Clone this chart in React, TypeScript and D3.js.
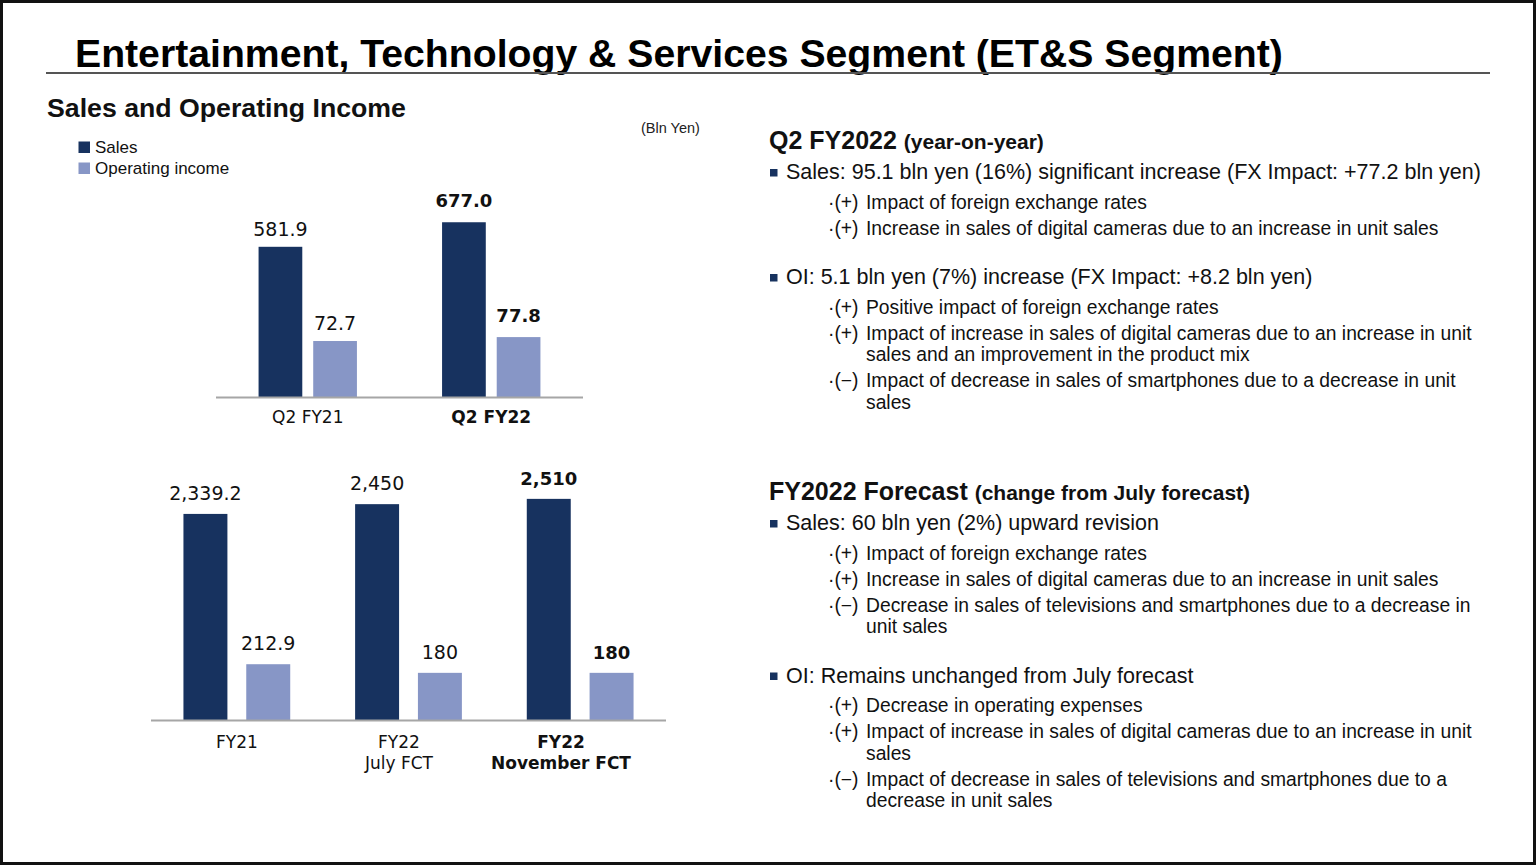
import React from "react";
import * as d3 from "d3";

const W = 1536;
const H = 865;

// ---------- data ----------
const seriesNames = ["Sales", "Operating income"];
const seriesColors = ["#17325f", "#8796c6"];

const q2Categories = [["Q2 FY21"], ["Q2 FY22"]];
const q2Sales = [581.9, 677.0];
const q2OperatingIncome = [72.7, 77.8];

const fyCategories = [["FY21"], ["FY22", "July FCT"], ["FY22", "November FCT"]];
const fySales = [2339.2, 2450, 2510];
const fyOperatingIncome = [212.9, 180, 180];

const titleText = "Entertainment, Technology & Services Segment (ET&S Segment)";
const subTitleText = "Sales and Operating Income";
const unitText = "(Bln Yen)";

type Sub = { sign: string; lines: string[] };
type Bullet = { text: string; subs: Sub[] };
type Section = { head: string; headNote: string; bullets: Bullet[] };

const sections: Section[] = [
  {
    head: "Q2 FY2022",
    headNote: "(year-on-year)",
    bullets: [
      {
        text: "Sales: 95.1 bln yen (16%) significant increase (FX Impact: +77.2 bln yen)",
        subs: [
          { sign: "·(+)", lines: ["Impact of foreign exchange rates"] },
          { sign: "·(+)", lines: ["Increase in sales of digital cameras due to an increase in unit sales"] },
        ],
      },
      {
        text: "OI: 5.1 bln yen (7%) increase (FX Impact: +8.2 bln yen)",
        subs: [
          { sign: "·(+)", lines: ["Positive impact of foreign exchange rates"] },
          {
            sign: "·(+)",
            lines: [
              "Impact of increase in sales of digital cameras due to an increase in unit",
              "sales and an improvement in the product mix",
            ],
          },
          {
            sign: "·(−)",
            lines: ["Impact of decrease in sales of smartphones due to a decrease in unit", "sales"],
          },
        ],
      },
    ],
  },
  {
    head: "FY2022 Forecast",
    headNote: "(change from July forecast)",
    bullets: [
      {
        text: "Sales: 60 bln yen (2%) upward revision",
        subs: [
          { sign: "·(+)", lines: ["Impact of foreign exchange rates"] },
          { sign: "·(+)", lines: ["Increase in sales of digital cameras due to an increase in unit sales"] },
          {
            sign: "·(−)",
            lines: ["Decrease in sales of televisions and smartphones due to a decrease in", "unit sales"],
          },
        ],
      },
      {
        text: "OI: Remains unchanged from July forecast",
        subs: [
          { sign: "·(+)", lines: ["Decrease in operating expenses"] },
          {
            sign: "·(+)",
            lines: ["Impact of increase in sales of digital cameras due to an increase in unit", "sales"],
          },
          {
            sign: "·(−)",
            lines: [
              "Impact of decrease in sales of televisions and smartphones due to a",
              "decrease in unit sales",
            ],
          },
        ],
      },
    ],
  },
];

// ---------- fonts ----------
const UI_FONT = "'Liberation Sans', Arial, sans-serif";
const NUM_FONT = "'DejaVu Sans', Verdana, sans-serif";

type ChartProps = {
  categories: string[][];
  sales: number[];
  oi: number[];
  xRange: [number, number];
  padInner: number;
  barPad: number;
  baseline: number;
  salesScale: [number, number];
  oiScale: [number, number];
  fmt: (v: number) => string;
  labelGap: (bold: boolean) => number;
  catLabelRange?: [number, number];
  catY: number;
};

function BarChart(p: ChartProps) {
  const idx = p.categories.map((_, i) => String(i));
  const x0 = d3
    .scaleBand<string>()
    .domain(idx)
    .range(p.xRange)
    .paddingInner(p.padInner)
    .paddingOuter(p.padInner / 2);
  const x1 = d3
    .scaleBand<string>()
    .domain(["s", "o"])
    .range([0, x0.bandwidth()])
    .paddingInner(p.barPad);
  const yS = d3.scaleLinear().domain([0, p.salesScale[0]]).range([p.baseline, p.salesScale[1]]);
  const yO = d3.scaleLinear().domain([0, p.oiScale[0]]).range([p.baseline, p.oiScale[1]]);
  const labelX = p.catLabelRange
    ? d3.scalePoint<string>().domain(idx).range(p.catLabelRange)
    : (k: string) => (x0(k) as number) + x0.bandwidth() / 2;
  const last = p.categories.length - 1;

  return (
    <g>
      {idx.map((k, i) => {
        const bold = i === last;
        const gx = x0(k) as number;
        const bars = [
          { key: "s", v: p.sales[i], y: yS, c: seriesColors[0] },
          { key: "o", v: p.oi[i], y: yO, c: seriesColors[1] },
        ];
        return (
          <g key={k}>
            {bars.map((b) => {
              const bx = gx + (x1(b.key) as number);
              const top = b.y(b.v);
              return (
                <g key={b.key}>
                  <rect x={bx} y={top} width={x1.bandwidth()} height={p.baseline - top} fill={b.c} />
                  <text
                    x={bx + x1.bandwidth() / 2}
                    y={top - p.labelGap(bold)}
                    textAnchor="middle"
                    fontFamily={NUM_FONT}
                    fontSize={bold ? 18 : 19}
                    fontWeight={bold ? "bold" : "normal"}
                    fill="#111"
                  >
                    {p.fmt(b.v)}
                  </text>
                </g>
              );
            })}
            {p.categories[i].map((line, li) => (
              <text
                key={li}
                x={(labelX as any)(k)}
                y={p.catY + li * 21}
                textAnchor="middle"
                fontFamily={NUM_FONT}
                fontSize={17}
                fontWeight={bold ? "bold" : "normal"}
                fill="#111"
              >
                {line}
              </text>
            ))}
          </g>
        );
      })}
      <line
        x1={p.xRange[0]}
        x2={p.xRange[1]}
        y1={p.baseline + 0.5}
        y2={p.baseline + 0.5}
        stroke="#a6a6a6"
        strokeWidth={2}
      />
    </g>
  );
}

function RightText() {
  const els: React.ReactNode[] = [];
  const startY = [149, 500];
  sections.forEach((sec, si) => {
    let y = startY[si];
    els.push(
      <text key={`h${si}`} x={769} y={y} fontFamily={UI_FONT} fontWeight="bold" fill="#111">
        <tspan fontSize={25}>{sec.head} </tspan>
        <tspan fontSize={21}>{sec.headNote}</tspan>
      </text>
    );
    sec.bullets.forEach((b, bi) => {
      y += bi === 0 ? 30 : 49.5;
      els.push(
        <g key={`b${si}-${bi}`}>
          <rect x={770} y={y - 10} width={7.5} height={7.5} fill={seriesColors[0]} />
          <text x={786} y={y} fontFamily={UI_FONT} fontSize={21.5} fill="#111">
            {b.text}
          </text>
        </g>
      );
      b.subs.forEach((s, ssi) => {
        y += ssi === 0 ? 29.5 : 26;
        els.push(
          <text key={`s${si}-${bi}-${ssi}`} x={828} y={y} fontFamily={UI_FONT} fontSize={19.3} fill="#111">
            {s.sign}
          </text>
        );
        s.lines.forEach((ln, li) => {
          if (li > 0) y += 21.5;
          els.push(
            <text
              key={`l${si}-${bi}-${ssi}-${li}`}
              x={866}
              y={y}
              fontFamily={UI_FONT}
              fontSize={19.3}
              fill="#111"
            >
              {ln}
            </text>
          );
        });
      });
    });
  });
  return <g>{els}</g>;
}

export default function App() {
  const topFmt = d3.format(".1f");
  const fyFmt = (v: number) => (Number.isInteger(v) ? d3.format(",")(v) : d3.format(",.1f")(v));
  return (
    <svg
      width={W}
      height={H}
      viewBox={`0 0 ${W} ${H}`}
      style={{ position: "absolute", left: 0, top: 0, display: "block", background: "#fff" }}
    >
      <rect x={0} y={0} width={W} height={H} fill="#fff" />
      <rect x={1.5} y={1.5} width={W - 3} height={H - 3} fill="none" stroke="#111" strokeWidth={3} />

      <text x={75} y={67} fontFamily={UI_FONT} fontWeight="bold" fontSize={39.2} fill="#000">
        {titleText}
      </text>
      <line x1={46} x2={1490} y1={73} y2={73} stroke="#555" strokeWidth={2} />

      <text x={47} y={117} fontFamily={UI_FONT} fontWeight="bold" fontSize={26.7} fill="#111">
        {subTitleText}
      </text>
      <text x={641} y={133} fontFamily={UI_FONT} fontSize={14.5} fill="#222">
        {unitText}
      </text>

      {seriesNames.map((n, i) => (
        <g key={n}>
          <rect x={78.5} y={141.5 + i * 21} width={11.5} height={11.5} fill={seriesColors[i]} />
          <text x={95} y={152.5 + i * 21} fontFamily={UI_FONT} fontSize={17} fill="#111">
            {n}
          </text>
        </g>
      ))}

      <BarChart
        categories={q2Categories}
        sales={q2Sales}
        oi={q2OperatingIncome}
        xRange={[216, 583]}
        padInner={0.464}
        barPad={0.2}
        baseline={397}
        salesScale={[800, 190.5]}
        oiScale={[100, 320]}
        fmt={topFmt}
        labelGap={(b) => (b ? 15 : 11)}
        catY={423}
      />

      <BarChart
        categories={fyCategories}
        sales={fySales}
        oi={fyOperatingIncome}
        xRange={[151, 666]}
        padInner={0.378}
        barPad={0.3}
        baseline={720}
        salesScale={[3000, 455.7]}
        oiScale={[300, 641.4]}
        fmt={fyFmt}
        labelGap={() => 14}
        catLabelRange={[237, 561]}
        catY={748}
      />

      <RightText />
    </svg>
  );
}
